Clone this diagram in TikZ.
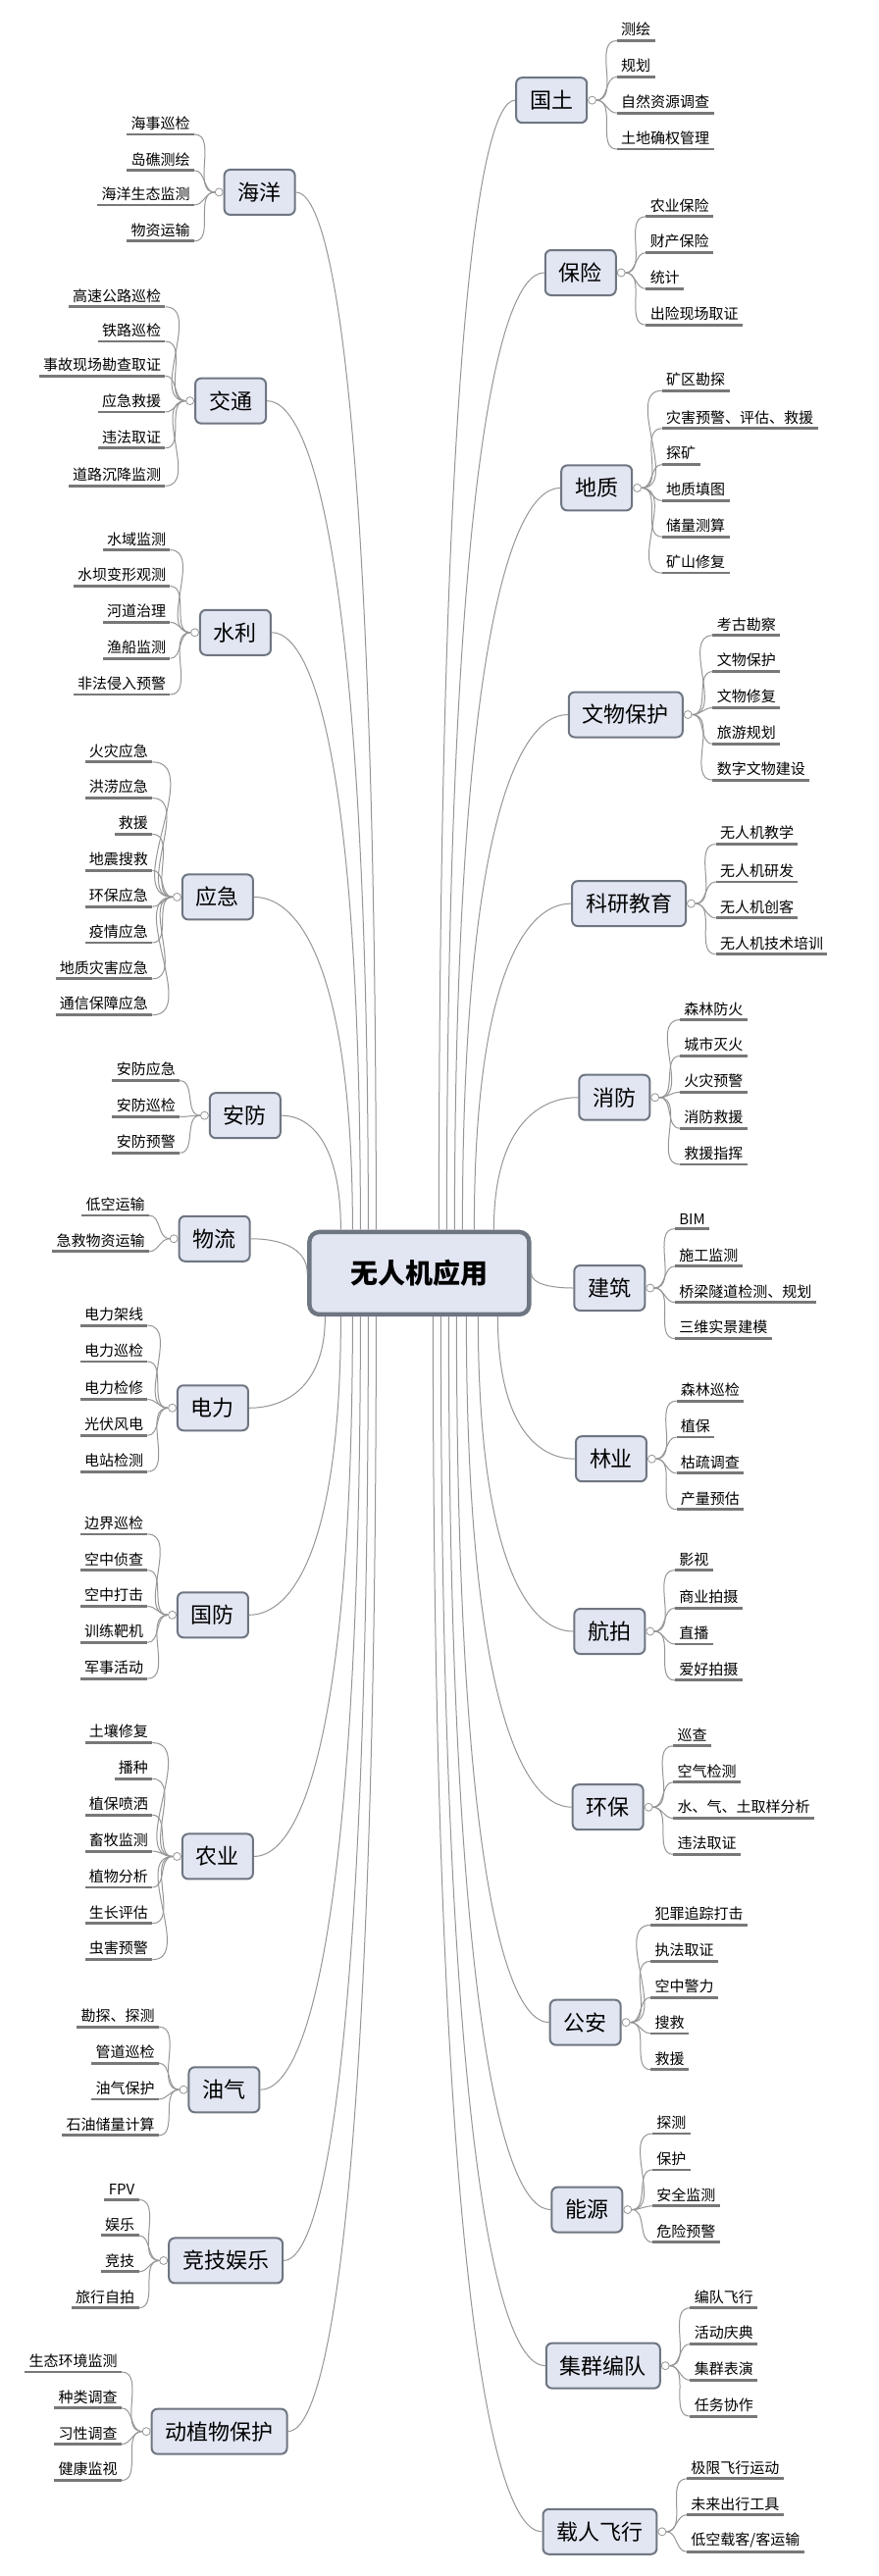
\documentclass[tikz,border=0pt]{standalone}
\usepackage{fontspec}
\setmainfont{Noto Sans CJK SC}
\usetikzlibrary{positioning,calc}
\definecolor{boxfill}{RGB}{226,230,242}
\definecolor{boxline}{RGB}{110,118,130}
\definecolor{wire}{RGB}{150,150,150}
\definecolor{ulgray}{RGB}{120,120,120}

% left-hand branch: name, label, x, y, start point, out angle (unused), children
\newcommand\mmleft[7]{%
  \node[branch] (#1) at (#3,#4) {#2};
  \node[knob, left=0pt of #1] (#1k) {};
  \coordinate (#1s) at (#5);
  \draw[trunk] (#1s) .. controls ($(#1s)!0.75!(#1s |- #1.east)$)
     and ($(#1.east)!0.5!(#1s |- #1.east)$) .. (#1.east);
  \path (#1.west) ++(-18,0) coordinate (#1c);
  \foreach \t/\y [count=\i] in {#7} {
    \node[leaf, anchor=east] (#1\i) at (#1c |- 0,\y) {\t};
    \draw[uline] (#1\i.south west) -- (#1\i.south east);
    \draw[twig] (#1k.west) to[out=180, in=0] (#1\i.south east);
  }}
% right-hand branch
\newcommand\mmright[7]{%
  \node[branch] (#1) at (#3,#4) {#2};
  \node[knob, right=0pt of #1] (#1k) {};
  \coordinate (#1s) at (#5);
  \draw[trunk] (#1s) .. controls ($(#1s)!0.75!(#1s |- #1.west)$)
     and ($(#1.west)!0.5!(#1s |- #1.west)$) .. (#1.west);
  \path (#1.east) ++(18,0) coordinate (#1c);
  \foreach \t/\y [count=\i] in {#7} {
    \node[leaf, anchor=west] (#1\i) at (#1c |- 0,\y) {\t};
    \draw[uline] (#1\i.south west) -- (#1\i.south east);
    \draw[twig] (#1k.east) to[out=0, in=180] (#1\i.south west);
  }}

\begin{document}
\begin{tikzpicture}[x=0.822pt, y=-0.8375pt,
  branch/.style={draw=boxline, fill=boxfill, rounded corners=3pt, line width=1pt,
                 minimum height=23pt, inner xsep=7pt, font=\fontsize{11}{12}\selectfont},
  root/.style={draw=boxline, fill=boxfill, rounded corners=5pt, line width=2.2pt,
               minimum width=112pt, minimum height=42pt, font=\fontsize{14}{16}\selectfont\bfseries},
  leaf/.style={inner xsep=2pt, inner ysep=2pt, font=\fontsize{7.5}{9}\selectfont},
  knob/.style={circle, draw=wire, fill=white, inner sep=0pt, minimum size=4pt, line width=0.4pt},
  uline/.style={ulgray, line width=1.4pt},
  trunk/.style={wire, line width=0.5pt},
  twig/.style={wire, line width=0.5pt}
]
\useasboundingbox[fill=white] (0,0) rectangle (545,1568);

\node[root] (ctr) at (260,775) {无人机应用};

%% left side
\mmleft{hy}{海洋}{161}{117}{$(ctr.north)+(-22pt,0)$}{90}
  {海事巡检/75, 岛礁测绘/97, 海洋生态监测/118, 物资运输/140}
\mmleft{jt}{交通}{143}{244}{$(ctr.north)+(-26pt,0)$}{90}
  {高速公路巡检/180, 铁路巡检/201, 事故现场勘查取证/222, 应急救援/244, 违法取证/266, 道路沉降监测/289}
\mmleft{sl}{水利}{146}{385}{$(ctr.north)+(-30pt,0)$}{90}
  {水域监测/328, 水坝变形观测/350, 河道治理/372, 渔船监测/394, 非法侵入预警/416}
\mmleft{yj}{应急}{135}{546}{$(ctr.north)+(-34pt,0)$}{90}
  {火灾应急/457, 洪涝应急/479, 救援/501, 地震搜救/523, 环保应急/545, 疫情应急/567, 地质灾害应急/589, 通信保障应急/611}
\mmleft{af}{安防}{152}{679}{$(ctr.north)+(-40pt,0)$}{90}
  {安防应急/651, 安防巡检/673, 安防预警/695}
\mmleft{wl}{物流}{133}{754}{ctr.west}{180}
  {低空运输/733, 急救物资运输/755}
\mmleft{dl}{电力}{132}{857}{$(ctr.south)+(-48pt,0)$}{-90}
  {电力架线/800, 电力巡检/822, 电力检修/845, 光伏风电/867, 电站检测/889}
\mmleft{gf}{国防}{132}{983}{$(ctr.south)+(-40pt,0)$}{-90}
  {边界巡检/927, 空中侦查/949, 空中打击/971, 训练靶机/993, 军事活动/1015}
\mmleft{ny}{农业}{135}{1130}{$(ctr.south)+(-34pt,0)$}{-90}
  {土壤修复/1054, 播种/1076, 植保喷洒/1098, 畜牧监测/1120, 植物分析/1142, 生长评估/1164, 虫害预警/1186}
\mmleft{yq}{油气}{139}{1272}{$(ctr.south)+(-30pt,0)$}{-90}
  {勘探、探测/1227, 管道巡检/1249, 油气保护/1271, 石油储量计算/1293}
\mmleft{jj}{竞技娱乐}{140}{1376}{$(ctr.south)+(-26pt,0)$}{-90}
  {FPV/1333, 娱乐/1354, 竞技/1376, 旅行自拍/1398}
\mmleft{dz}{动植物保护}{136}{1480}{$(ctr.south)+(-22pt,0)$}{-90}
  {生态环境监测/1437, 种类调查/1459, 习性调查/1481, 健康监视/1503}

%% right side
\mmright{gt}{国土}{342}{61}{$(ctr.north)+(10pt,0)$}{90}
  {测绘/18, 规划/40, 自然资源调查/62, 土地确权管理/84}
\mmright{bx}{保险}{360}{166}{$(ctr.north)+(14pt,0)$}{90}
  {农业保险/125, 财产保险/147, 统计/169, 出险现场取证/191}
\mmright{dzh}{地质}{370}{297}{$(ctr.north)+(18pt,0)$}{90}
  {矿区勘探/231, 灾害预警、评估、救援/254, 探矿/276, 地质填图/298, 储量测算/320, 矿山修复/342}
\mmright{ww}{文物保护}{388}{435}{$(ctr.north)+(22pt,0)$}{90}
  {考古勘察/380, 文物保护/402, 文物修复/424, 旅游规划/446, 数字文物建设/468}
\mmright{ky}{科研教育}{390}{550}{$(ctr.north)+(28pt,0)$}{90}
  {无人机教学/507, 无人机研发/530, 无人机创客/552, 无人机技术培训/574}
\mmright{xf}{消防}{381}{668}{$(ctr.north)+(38pt,0)$}{90}
  {森林防火/614, 城市灭火/636, 火灾预警/658, 消防救援/680, 救援指挥/702}
\mmright{jz}{建筑}{378}{784}{ctr.east}{0}
  {BIM/742, 施工监测/764, 桥梁隧道检测、规划/786, 三维实景建模/808}
\mmright{ly}{林业}{379}{888}{$(ctr.south)+(40pt,0)$}{-90}
  {森林巡检/846, 植保/868, 枯疏调查/890, 产量预估/912}
\mmright{hp}{航拍}{378}{993}{$(ctr.south)+(30pt,0)$}{-90}
  {影视/949, 商业拍摄/972, 直播/994, 爱好拍摄/1016}
\mmright{hb}{环保}{377}{1100}{$(ctr.south)+(24pt,0)$}{-90}
  {巡查/1056, 空气检测/1078, 水、气、土取样分析/1100, 违法取证/1122}
\mmright{ga}{公安}{363}{1231}{$(ctr.south)+(19pt,0)$}{-90}
  {犯罪追踪打击/1165, 执法取证/1187, 空中警力/1209, 搜救/1231, 救援/1253}
\mmright{ngy}{能源}{364}{1345}{$(ctr.south)+(15pt,0)$}{-90}
  {探测/1292, 保护/1314, 安全监测/1336, 危险预警/1358}
\mmright{jq}{集群编队}{374}{1440}{$(ctr.south)+(11pt,0)$}{-90}
  {编队飞行/1398, 活动庆典/1420, 集群表演/1442, 任务协作/1464}
\mmright{zr}{载人飞行}{372}{1541}{$(ctr.south)+(7pt,0)$}{-90}
  {极限飞行运动/1502, 未来出行工具/1524, {低空载客/客运输}/1546}
\end{tikzpicture}
\end{document}
